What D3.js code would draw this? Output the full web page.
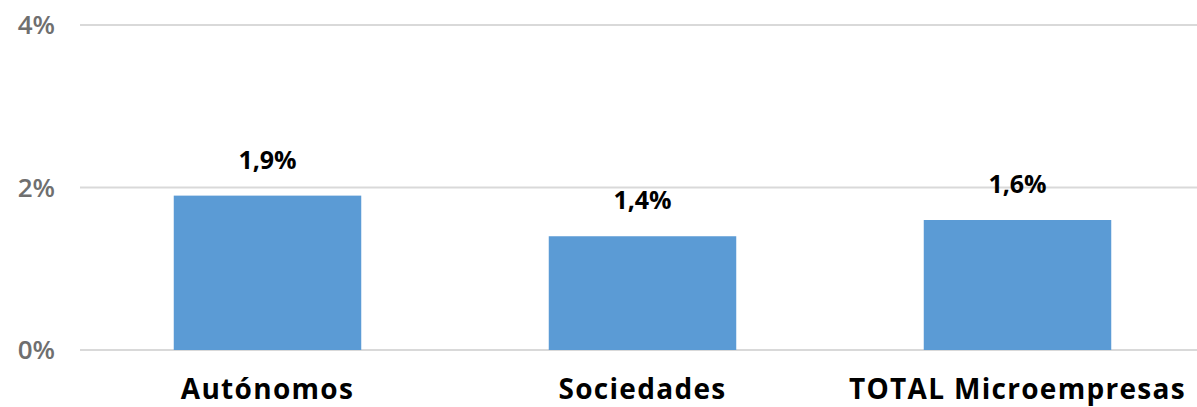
<!DOCTYPE html>
<html lang="es">
<head>
    <meta charset="UTF-8">
    <title>Microempresas</title>
    <script src="https://cdn.jsdelivr.net/npm/d3@7"></script>
    <style>
        body { margin: 0; background: #fff; }
        .grid line { stroke: #d9d9d9; stroke-width: 2; }
        .tick-label { fill: #6f6f6f; font-family: "Open Sans", sans-serif; font-size: 26px; font-weight: 600; }
        .bar { fill: #5b9bd5; }
        .value { fill: #000; font-family: "Open Sans", sans-serif; font-size: 25px; font-weight: bold; }
        .cat { fill: #000; font-family: "Open Sans", sans-serif; font-size: 28px; font-weight: bold; letter-spacing: 1.3px; }
    </style>
</head>
<body>
<script>
    const width = 1197;
    const height = 407;

    const categories = ["Autónomos", "Sociedades", "TOTAL Microempresas"];
    const values = [1.9, 1.4, 1.6];
    const valueLabels = ["1,9%", "1,4%", "1,6%"];
    const ticks = [0, 2, 4];
    const tickLabels = ["0%", "2%", "4%"];

    const svg = d3.select("body").append("svg")
            .attr("width", width).attr("height", height);

    const x = d3.scaleBand()
            .domain(categories)
            .range([80, 1205])
            .paddingInner(0.5)
            .paddingOuter(0.25);

    const y = d3.scaleLinear()
            .domain([0, 4])
            .range([350, 25]);

    // gridlines
    svg.append("g").attr("class", "grid")
        .selectAll("line")
        .data(ticks)
        .enter()
        .append("line")
        .attr("x1", 80).attr("x2", width)
        .attr("y1", d => y(d)).attr("y2", d => y(d));

    svg.selectAll("text.tick-label")
        .data(ticks)
        .enter()
        .append("text")
        .attr("class", "tick-label")
        .attr("x", 55)
        .attr("y", d => y(d))
        .attr("dy", "0.35em")
        .attr("text-anchor", "end")
        .text((d, i) => tickLabels[i]);

    svg.selectAll("rect.bar")
        .data(values)
        .enter()
        .append("rect")
        .attr("class", "bar")
        .attr("x", (d, i) => x(categories[i]))
        .attr("width", x.bandwidth())
        .attr("y", d => y(d))
        .attr("height", d => y(0) - y(d));

    svg.selectAll("text.value")
        .data(values)
        .enter()
        .append("text")
        .attr("class", "value")
        .attr("x", (d, i) => x(categories[i]) + x.bandwidth() / 2)
        .attr("y", d => y(d) - 27)
        .attr("text-anchor", "middle")
        .text((d, i) => valueLabels[i]);

    svg.selectAll("text.cat")
        .data(categories)
        .enter()
        .append("text")
        .attr("class", "cat")
        .attr("x", d => x(d) + x.bandwidth() / 2)
        .attr("y", 399)
        .attr("text-anchor", "middle")
        .text(d => d);
</script>
</body>
</html>
